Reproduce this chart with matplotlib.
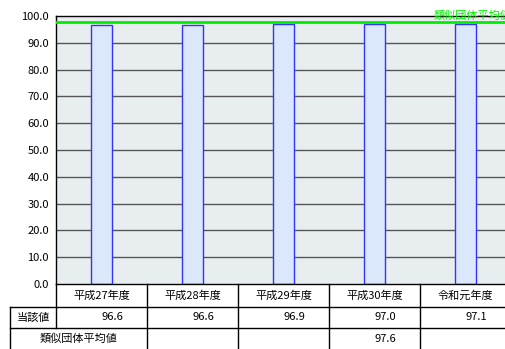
import matplotlib
matplotlib.use('Agg')
import matplotlib.pyplot as plt
import numpy as np

plt.rcParams['font.family'] = ['Noto Sans CJK JP', 'DejaVu Sans']

years = ["平成27年度", "平成28年度", "平成29年度", "平成30年度", "令和元年度"]
values = [96.6, 96.6, 96.9, 97.0, 97.1]
similar_avg = 97.6
similar_row = ["", "", "", "97.6", ""]

W, H = 506, 349
FS = 8
fig = plt.figure(figsize=(W / 100, H / 100), dpi=100)

# plot area in pixels
left, right, top, bottom = 56, 511, 16, 284
ax = fig.add_axes([left / W, (H - bottom) / H, (right - left) / W, (bottom - top) / H])
ax.set_facecolor("#e8eef0")
x = np.arange(len(years))
ax.set_xlim(-0.5, len(years) - 0.5)
ax.set_ylim(0, 100)
ax.set_yticks(np.arange(0, 101, 10))
ax.set_yticklabels([f"{v:.1f}" for v in np.arange(0, 101, 10)], fontsize=FS)
ax.tick_params(axis='y', length=0, pad=5)
ax.set_xticks([])
for v in range(10, 100, 10):
    ax.axhline(v, color="#555555", lw=1, zorder=1)
ax.bar(x, values, width=0.22, color="#dbe8fb", edgecolor="#3333ff", lw=1, zorder=2)
ax.axhline(similar_avg, color="#00ee00", lw=2, zorder=3)
ax.text(4.5, 100, "類似団体平均値", color="#00ee00", fontsize=FS,
        ha='right', va='center', clip_on=False)
for s in ax.spines.values():
    s.set_color("black")
    s.set_linewidth(1)

# table below
tb = fig.add_axes([0, 0, 1, 1], facecolor="none")
tb.set_xlim(0, W)
tb.set_ylim(H, 0)
tb.axis("off")
colw = (right - left) / len(years)
edges = [left + i * colw for i in range(len(years) + 1)]
r0, r1, r2, r3 = 284, 307, 328, 349
lk = dict(color="black", lw=1)
tb.plot([10, W], [r1, r1], **lk)
tb.plot([10, W], [r2, r2], **lk)
tb.plot([10, 10], [r1, r3], **lk)
tb.plot([left, left], [r0, r2], **lk)
for e in edges[1:]:
    tb.plot([e, e], [r0, r3], **lk)
for i, name in enumerate(years):
    cx = (edges[i] + edges[i + 1]) / 2
    tb.text(cx, (r0 + r1) / 2, name, ha='center', va='center', fontsize=FS)
    tb.text(edges[i + 1] - 24, (r1 + r2) / 2, f"{values[i]:.1f}",
            ha='right', va='center', fontsize=FS)
    if similar_row[i]:
        tb.text(edges[i + 1] - 24, (r2 + r3) / 2, similar_row[i],
                ha='right', va='center', fontsize=FS)
tb.text((10 + left) / 2, (r1 + r2) / 2, "当該値", ha='center', va='center', fontsize=FS)
tb.text((10 + edges[1]) / 2, (r2 + r3) / 2, "類似団体平均値", ha='center', va='center', fontsize=FS)

fig.savefig("out.png", dpi=100)
